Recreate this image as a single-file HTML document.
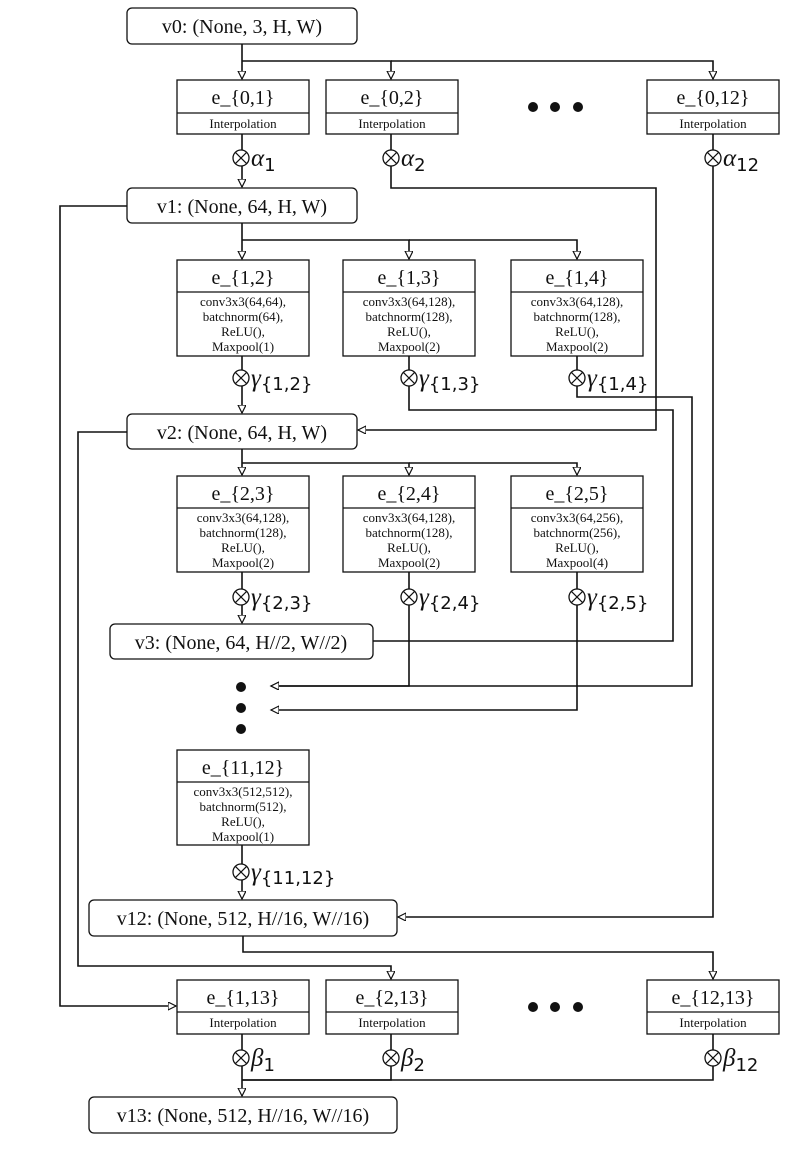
<!DOCTYPE html>
<html><head><meta charset="utf-8"><style>
body{margin:0;background:#fff}
svg{display:block}
text{font-family:"Liberation Serif",serif;fill:#111}
.t{font-size:20px;text-anchor:middle}
.s{font-size:13px;text-anchor:middle}
.g{font-size:25px;font-style:italic}
.sub{font-size:18px;font-family:"DejaVu Sans",sans-serif;font-style:normal}
</style></head><body>
<svg width="788" height="1153" viewBox="0 0 788 1153" xmlns="http://www.w3.org/2000/svg">
<defs>
<marker id="a" markerWidth="10" markerHeight="10" refX="8" refY="4" orient="auto" markerUnits="userSpaceOnUse">
<path d="M0,0 L8,4 L0,8 Z" fill="#fff" stroke="#111" stroke-width="1.2"/>
</marker>
<g id="ox"><circle r="8" fill="#fff" stroke="#111" stroke-width="1.3"/><path d="M-5.7,-5.7 L5.7,5.7 M-5.7,5.7 L5.7,-5.7" stroke="#111" stroke-width="1.2"/></g>
</defs>
<g fill="none" stroke="#111" stroke-width="1.6">
<path d="M242,44 V79" marker-end="url(#a)"/>
<path d="M242,61 H391 V79" marker-end="url(#a)"/>
<path d="M391,61 H713 V79" marker-end="url(#a)"/>
<path d="M242,134 V187" marker-end="url(#a)"/>
<path d="M391,134 V188 H656 V430 H358" marker-end="url(#a)"/>
<path d="M713,134 V917 H398" marker-end="url(#a)"/>
<path d="M127,206 H60 V1006 H176" marker-end="url(#a)"/>
<path d="M242,223 V259" marker-end="url(#a)"/>
<path d="M242,240 H409 V259" marker-end="url(#a)"/>
<path d="M409,240 H577 V259" marker-end="url(#a)"/>
<path d="M242,356 V413" marker-end="url(#a)"/>
<path d="M409,356 V410 H673 V641 H373"/>
<path d="M577,356 V397 H692 V686 H271" marker-end="url(#a)"/>
<path d="M127,432 H78 V966 H391 V979" marker-end="url(#a)"/>
<path d="M242,449 V475" marker-end="url(#a)"/>
<path d="M242,463 H409 V475" marker-end="url(#a)"/>
<path d="M409,463 H577 V475" marker-end="url(#a)"/>
<path d="M242,572 V623" marker-end="url(#a)"/>
<path d="M409,572 V686 H271" marker-end="url(#a)"/>
<path d="M577,572 V710 H271" marker-end="url(#a)"/>
<path d="M242,845 V899" marker-end="url(#a)"/>
<path d="M243,936 V952 H713 V979" marker-end="url(#a)"/>
<path d="M242,1034 V1096" marker-end="url(#a)"/>
<path d="M391,1034 V1080 H242"/>
<path d="M713,1034 V1080 H242"/>
</g>
<g fill="#fff" stroke="#111" stroke-width="1.3">
<rect x="127" y="8" width="230" height="36" rx="5"/>
<rect x="127" y="188" width="230" height="35" rx="5"/>
<rect x="127" y="414" width="230" height="35" rx="5"/>
<rect x="110" y="624" width="263" height="35" rx="5"/>
<rect x="89" y="900" width="308" height="36" rx="5"/>
<rect x="89" y="1097" width="308" height="36" rx="5"/>
</g>
<text class="t" x="242" y="33">v0: (None, 3, H, W)</text>
<text class="t" x="242" y="213">v1: (None, 64, H, W)</text>
<text class="t" x="242" y="439">v2: (None, 64, H, W)</text>
<text class="t" x="241" y="649">v3: (None, 64, H//2, W//2)</text>
<text class="t" x="243" y="925">v12: (None, 512, H//16, W//16)</text>
<text class="t" x="243" y="1122">v13: (None, 512, H//16, W//16)</text>
<g fill="#fff" stroke="#111" stroke-width="1.3">
<rect x="177" y="80" width="132" height="54"/><path d="M177,113 H309"/>
<rect x="326" y="80" width="132" height="54"/><path d="M326,113 H458"/>
<rect x="647" y="80" width="132" height="54"/><path d="M647,113 H779"/>
<rect x="177" y="980" width="132" height="54"/><path d="M177,1012 H309"/>
<rect x="326" y="980" width="132" height="54"/><path d="M326,1012 H458"/>
<rect x="647" y="980" width="132" height="54"/><path d="M647,1012 H779"/>
<rect x="177" y="260" width="132" height="96"/><path d="M177,292 H309"/>
<rect x="343" y="260" width="132" height="96"/><path d="M343,292 H475"/>
<rect x="511" y="260" width="132" height="96"/><path d="M511,292 H643"/>
<rect x="177" y="476" width="132" height="96"/><path d="M177,508 H309"/>
<rect x="343" y="476" width="132" height="96"/><path d="M343,508 H475"/>
<rect x="511" y="476" width="132" height="96"/><path d="M511,508 H643"/>
<rect x="177" y="750" width="132" height="95"/><path d="M177,782 H309"/>
</g>
<text class="t" x="243" y="104">e_{0,1}</text><text class="s" x="243" y="128">Interpolation</text>
<text class="t" x="392" y="104">e_{0,2}</text><text class="s" x="392" y="128">Interpolation</text>
<text class="t" x="713" y="104">e_{0,12}</text><text class="s" x="713" y="128">Interpolation</text>
<text class="t" x="243" y="1004">e_{1,13}</text><text class="s" x="243" y="1027">Interpolation</text>
<text class="t" x="392" y="1004">e_{2,13}</text><text class="s" x="392" y="1027">Interpolation</text>
<text class="t" x="713" y="1004">e_{12,13}</text><text class="s" x="713" y="1027">Interpolation</text>

<text class="t" x="243" y="284">e_{1,2}</text>
<text class="s" x="243" y="306">conv3x3(64,64),</text><text class="s" x="243" y="321">batchnorm(64),</text><text class="s" x="243" y="336">ReLU(),</text><text class="s" x="243" y="351">Maxpool(1)</text>
<text class="t" x="409" y="284">e_{1,3}</text>
<text class="s" x="409" y="306">conv3x3(64,128),</text><text class="s" x="409" y="321">batchnorm(128),</text><text class="s" x="409" y="336">ReLU(),</text><text class="s" x="409" y="351">Maxpool(2)</text>
<text class="t" x="577" y="284">e_{1,4}</text>
<text class="s" x="577" y="306">conv3x3(64,128),</text><text class="s" x="577" y="321">batchnorm(128),</text><text class="s" x="577" y="336">ReLU(),</text><text class="s" x="577" y="351">Maxpool(2)</text>

<text class="t" x="243" y="500">e_{2,3}</text>
<text class="s" x="243" y="522">conv3x3(64,128),</text><text class="s" x="243" y="537">batchnorm(128),</text><text class="s" x="243" y="552">ReLU(),</text><text class="s" x="243" y="567">Maxpool(2)</text>
<text class="t" x="409" y="500">e_{2,4}</text>
<text class="s" x="409" y="522">conv3x3(64,128),</text><text class="s" x="409" y="537">batchnorm(128),</text><text class="s" x="409" y="552">ReLU(),</text><text class="s" x="409" y="567">Maxpool(2)</text>
<text class="t" x="577" y="500">e_{2,5}</text>
<text class="s" x="577" y="522">conv3x3(64,256),</text><text class="s" x="577" y="537">batchnorm(256),</text><text class="s" x="577" y="552">ReLU(),</text><text class="s" x="577" y="567">Maxpool(4)</text>

<text class="t" x="243" y="774">e_{11,12}</text>
<text class="s" x="243" y="796">conv3x3(512,512),</text><text class="s" x="243" y="811">batchnorm(512),</text><text class="s" x="243" y="826">ReLU(),</text><text class="s" x="243" y="841">Maxpool(1)</text>

<g fill="#111">
<circle cx="533" cy="107" r="5"/><circle cx="555" cy="107" r="5"/><circle cx="578" cy="107" r="5"/>
<circle cx="533" cy="1007" r="5"/><circle cx="555" cy="1007" r="5"/><circle cx="578" cy="1007" r="5"/>
<circle cx="241" cy="687" r="5"/><circle cx="241" cy="708" r="5"/><circle cx="241" cy="729" r="5"/>
</g>
<use href="#ox" x="241" y="158"/><text class="g" x="251" y="166">α<tspan class="sub" dy="5">1</tspan></text>
<use href="#ox" x="391" y="158"/><text class="g" x="401" y="166">α<tspan class="sub" dy="5">2</tspan></text>
<use href="#ox" x="713" y="158"/><text class="g" x="723" y="166">α<tspan class="sub" dy="5">12</tspan></text>
<use href="#ox" x="241" y="378"/><text class="g" x="251" y="386">γ<tspan class="sub" dy="4">{1,2}</tspan></text>
<use href="#ox" x="409" y="378"/><text class="g" x="419" y="386">γ<tspan class="sub" dy="4">{1,3}</tspan></text>
<use href="#ox" x="577" y="378"/><text class="g" x="587" y="386">γ<tspan class="sub" dy="4">{1,4}</tspan></text>
<use href="#ox" x="241" y="597"/><text class="g" x="251" y="605">γ<tspan class="sub" dy="4">{2,3}</tspan></text>
<use href="#ox" x="409" y="597"/><text class="g" x="419" y="605">γ<tspan class="sub" dy="4">{2,4}</tspan></text>
<use href="#ox" x="577" y="597"/><text class="g" x="587" y="605">γ<tspan class="sub" dy="4">{2,5}</tspan></text>
<use href="#ox" x="241" y="872"/><text class="g" x="251" y="880">γ<tspan class="sub" dy="4">{11,12}</tspan></text>
<use href="#ox" x="241" y="1058"/><text class="g" x="251" y="1066">β<tspan class="sub" dy="5">1</tspan></text>
<use href="#ox" x="391" y="1058"/><text class="g" x="401" y="1066">β<tspan class="sub" dy="5">2</tspan></text>
<use href="#ox" x="713" y="1058"/><text class="g" x="723" y="1066">β<tspan class="sub" dy="5">12</tspan></text>
</svg>
</body></html>
